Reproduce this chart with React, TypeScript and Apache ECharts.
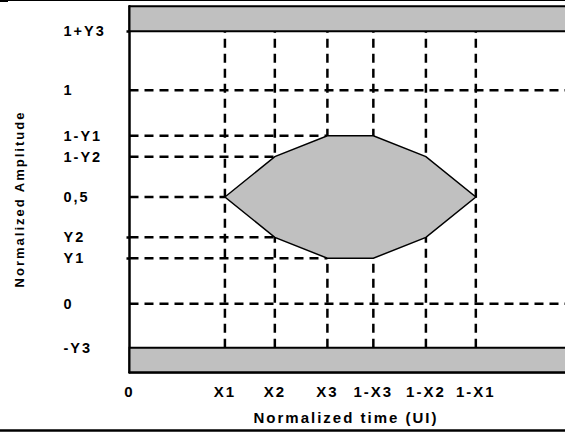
import React, { useEffect, useRef } from "react";
import * as echarts from "echarts";

// Y axis tick positions (normalized amplitude) and their labels
const yTickValues = [1.277, 1, 0.787, 0.689, 0.5, 0.311, 0.213, 0, -0.207];
const yTickLabels = ["1+Y3", "1", "1-Y1", "1-Y2", "0,5", "Y2", "Y1", "0", "-Y3"];
const yTickMarks = [1.277, 0.311, 0.213];

// X axis tick positions (normalized time, UI) and their labels
const xTickValues = [0, 0.216, 0.329, 0.448, 0.552, 0.671, 0.784, 1];
const xTickLabels = ["0", "X1", "X2", "X3", "1-X3", "1-X2", "1-X1", "1"];

// Eye mask polygon vertices
const eyeX = [0.216, 0.329, 0.448, 0.552, 0.671, 0.784, 0.671, 0.552, 0.448, 0.329];
const eyeY = [0.5, 0.689, 0.787, 0.787, 0.689, 0.5, 0.311, 0.213, 0.213, 0.311];

// Horizontal dashed guides: level and the x where each ends
const hGuideY = [1, 0.787, 0.689, 0.5, 0.311, 0.213, 0];
const hGuideEndX = [1.15, 0.448, 0.329, 0.216, 0.329, 0.448, 1.15];

// Vertical dashed guides
const vGuideX = [0.216, 0.329, 0.448, 0.552, 0.671, 0.784];

// Forbidden bands
const bandTop = 1.277;
const bandBottom = -0.207;

const X_MIN = 0;
const X_MAX = 1.15;
const Y_MIN = -0.321;
const Y_MAX = 1.394;

const FONT = '"Liberation Sans", Arial, sans-serif';

export default function App() {
  const ref = useRef<HTMLDivElement>(null);

  useEffect(() => {
    if (!ref.current) return;
    const chart = echarts.init(ref.current, undefined, { renderer: "svg" });

    const dash = { color: "#000", width: 2.5, type: [9, 6] as number[] };

    const series: any[] = [];
    hGuideY.forEach((y, i) => {
      series.push({
        type: "line",
        data: [
          [0, y],
          [hGuideEndX[i], y],
        ],
        symbol: "none",
        silent: true,
        lineStyle: dash,
        z: 3,
        ...(i === 0
          ? {
              markArea: {
                silent: true,
                itemStyle: { color: "#c0c0c0", borderColor: "#000", borderWidth: 2 },
                data: [
                  [{ yAxis: bandTop }, { yAxis: Y_MAX }],
                  [{ yAxis: Y_MIN }, { yAxis: bandBottom }],
                ],
              },
            }
          : {}),
      });
    });
    vGuideX.forEach((x) => {
      series.push({
        type: "line",
        data: [
          [x, bandBottom],
          [x, bandTop],
        ],
        symbol: "none",
        silent: true,
        lineStyle: dash,
        z: 3,
      });
    });
    series.push({
      type: "custom",
      silent: true,
      z: 10,
      data: [[0.5, 0.5]],
      renderItem: (_params: any, api: any) => {
        const pts = eyeX.map((x, i) => api.coord([x, eyeY[i]]));
        return {
          type: "polygon",
          shape: { points: pts },
          style: { fill: "#c0c0c0", stroke: "#000", lineWidth: 1.5 },
        };
      },
    });

    chart.setOption({
      animation: false,
      backgroundColor: "#fff",
      grid: {
        left: 129.5,
        top: 6.2,
        width: 508,
        height: 366,
        containLabel: false,
        outerBoundsMode: "none",
      },
      xAxis: {
        type: "value",
        min: X_MIN,
        max: X_MAX,
        splitLine: { show: false },
        axisLine: { show: true, onZero: false, lineStyle: { color: "#000", width: 2.5 } },
        axisTick: { show: false },
        axisLabel: {
          customValues: xTickValues,
          formatter: (v: number) => {
            const i = xTickValues.indexOf(v);
            return i >= 0 ? xTickLabels[i] : "";
          },
          color: "#000",
          fontWeight: "bold",
          fontSize: 15,
          fontFamily: FONT,
          margin: 12,
        },
      },
      yAxis: {
        type: "value",
        min: Y_MIN,
        max: Y_MAX,
        splitLine: { show: false },
        axisLine: { show: true, onZero: false, lineStyle: { color: "#000", width: 2.5 } },
        axisTick: {
          show: true,
          customValues: yTickMarks,
          length: 3,
          lineStyle: { color: "#000", width: 2.5 },
        },
        axisLabel: {
          customValues: yTickValues,
          formatter: (v: number) => {
            const i = yTickValues.indexOf(v);
            return i >= 0 ? yTickLabels[i] : "";
          },
          color: "#000",
          fontWeight: "bold",
          fontSize: 14.5,
          fontFamily: FONT,
          align: "left",
          margin: 66,
          padding: [7, 0, 0, 0],
        },
      },
      graphic: [
        {
          type: "text",
          x: 19.5,
          y: 199,
          rotation: Math.PI / 2,
          style: {
            text: "Normalized Amplitude",
            fill: "#000",
            fontSize: 13,
            fontWeight: "bold",
            fontFamily: FONT,
            align: "center",
            verticalAlign: "middle",
          },
        },
        {
          type: "text",
          x: 346,
          y: 417,
          style: {
            text: "Normalized time (UI)",
            fill: "#000",
            fontSize: 15,
            fontWeight: "bold",
            fontFamily: FONT,
            align: "center",
            verticalAlign: "middle",
          },
        },
        {
          type: "line",
          shape: { x1: 0, y1: 0.5, x2: 565, y2: 0.5 },
          style: { stroke: "#000", lineWidth: 1 },
        },
        {
          type: "rect",
          shape: { x: 0, y: 0, width: 8, height: 2 },
          style: { fill: "#000" },
        },
        {
          type: "line",
          shape: { x1: 0, y1: 430.5, x2: 565, y2: 430.5 },
          style: { stroke: "#000", lineWidth: 2.5 },
        },
      ],
      series,
    });

    return () => chart.dispose();
  }, []);

  return (
    <div
      ref={ref}
      style={{
        position: "fixed",
        left: 0,
        top: 0,
        width: 565,
        height: 433,
        letterSpacing: "2px",
        background: "#fff",
      }}
    />
  );
}
